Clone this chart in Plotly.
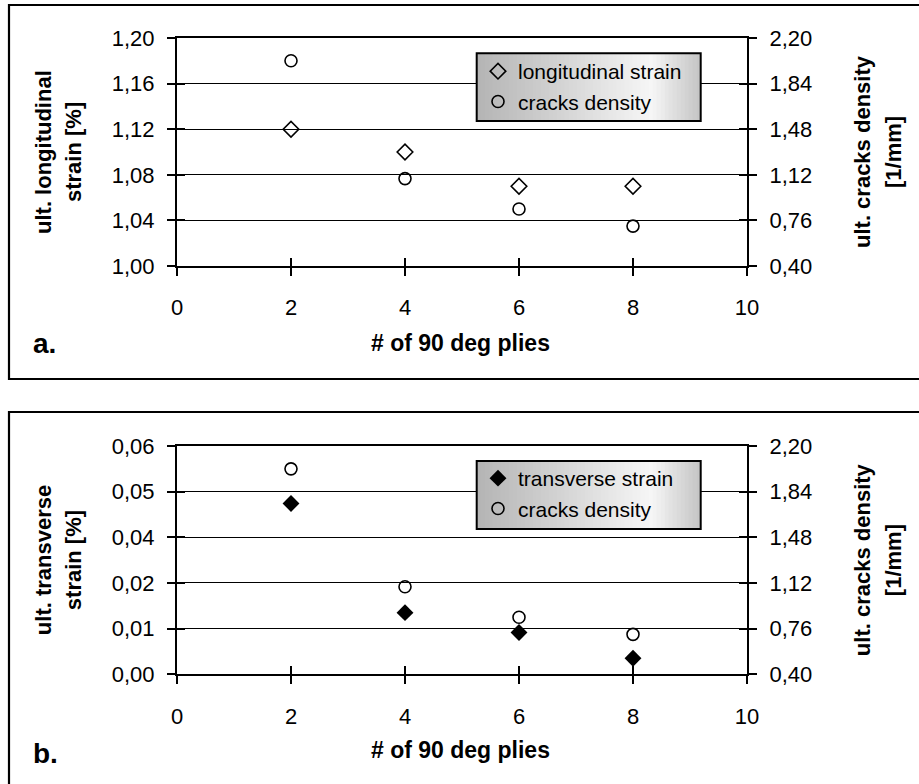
import plotly.graph_objects as go

# ---------------- data ----------------
plies = [2, 4, 6, 8]
long_strain = [1.12, 1.10, 1.07, 1.07]
trans_strain = [0.0449, 0.0162, 0.0110, 0.0042]
cracks_density = [2.02, 1.09, 0.85, 0.715]

x_ticks = [0, 2, 4, 6, 8, 10]
long_ticks = [1.00, 1.04, 1.08, 1.12, 1.16, 1.20]
trans_tickvals = [0.0, 0.012, 0.024, 0.036, 0.048, 0.060]
trans_ticktext = ["0,00", "0,01", "0,02", "0,04", "0,05", "0,06"]
density_ticks = [0.40, 0.76, 1.12, 1.48, 1.84, 2.20]

# ---------------- layout helpers ----------------
W, H = 919, 784
FONT = "Liberation Sans, Arial, sans-serif"


def px(x):
    return x / W


def py(y):
    return 1 - y / H


PLOT_X = [px(177), px(747)]
PANELS = [
    dict(top=38, bot=266, frame_top=5, frame_bot=379, label="a.",
         ltitle=["ult. longitudinal", "strain [%]"], legend="legend",
         leg_box=(476.7, 53.3, 700.7, 121.0), leg_y=51),
    dict(top=446, bot=674.3, frame_top=412, frame_bot=795, label="b.",
         ltitle=["ult. transverse", "strain [%]"], legend="legend2",
         leg_box=(476.7, 461.0, 700.7, 529.0), leg_y=458),
]

fig = go.Figure()

tick_font = dict(family=FONT, size=22, color="black")
shapes = []
annotations = []
layout_axes = {}
legends = {}


def axis_common():
    return dict(showgrid=False, zeroline=False, linecolor="black",
                tickcolor="black", tickwidth=1.5, ticklen=8,
                tickfont=tick_font, automargin=False)


leg_common = dict(bgcolor="rgba(0,0,0,0)", borderwidth=0,
                  font=dict(family=FONT, size=21, color="black"),
                  xanchor="left", yanchor="top", tracegroupgap=0,
                  itemwidth=30)

for i, p in enumerate(PANELS):
    xa = 1 + 2 * i          # main x
    xo = 2 + 2 * i          # overlay x (inside ticks)
    yl = 1 + 4 * i          # left y
    yr = 2 + 4 * i          # right y
    ylo = 3 + 4 * i         # left overlay
    yro = 4 + 4 * i         # right overlay

    def n(prefix, k):
        return prefix if k == 1 else f"{prefix}{k}"

    ydom = [py(p["bot"]), py(p["top"])]

    if i == 0:
        yrange = [1.0, 1.2]
        ytv, ytt = long_ticks, ["%.2f" % v for v in long_ticks]
    else:
        yrange = [0.0, 0.06]
        ytv, ytt = trans_tickvals, trans_ticktext
    ytt = [t.replace(".", ",") for t in ytt]
    rtt = [("%.2f" % v).replace(".", ",") for v in density_ticks]

    xcfg = axis_common()
    xcfg.update(domain=PLOT_X, range=[0, 10], tickmode="array", tickvals=x_ticks,
                ticks="outside", showline=True, linewidth=2, mirror=True,
                anchor=n("y", yl), ticklabelstandoff=13)
    layout_axes[n("xaxis", xa)] = xcfg

    xocfg = axis_common()
    xocfg.update(domain=PLOT_X, range=[0, 10], tickmode="array", tickvals=x_ticks,
                 ticks="inside", showline=False, showticklabels=False,
                 overlaying=n("x", xa), anchor=n("y", yl))
    layout_axes[n("xaxis", xo)] = xocfg

    ycfg = axis_common()
    ycfg.update(domain=ydom, range=yrange, tickmode="array", tickvals=ytv,
                ticktext=ytt, ticks="outside", showline=True, linewidth=2,
                showgrid=True, gridcolor="black", gridwidth=1,
                anchor=n("x", xa), ticklabelstandoff=8)
    layout_axes[n("yaxis", yl)] = ycfg

    yrcfg = axis_common()
    yrcfg.update(domain=ydom, range=[0.4, 2.2], tickmode="array",
                 tickvals=density_ticks, ticktext=rtt, ticks="outside",
                 showline=True, linewidth=2, side="right",
                 overlaying=n("y", yl), anchor=n("x", xa), ticklabelstandoff=8)
    layout_axes[n("yaxis", yr)] = yrcfg

    ylocfg = axis_common()
    ylocfg.update(domain=ydom, range=yrange, tickmode="array", tickvals=ytv,
                  ticks="inside", showline=False, showticklabels=False,
                  overlaying=n("y", yl), anchor=n("x", xa))
    layout_axes[n("yaxis", ylo)] = ylocfg

    yrocfg = axis_common()
    yrocfg.update(domain=ydom, range=[0.4, 2.2], tickmode="array",
                  tickvals=density_ticks, ticks="inside", showline=False,
                  showticklabels=False, side="right",
                  overlaying=n("y", yl), anchor=n("x", xa))
    layout_axes[n("yaxis", yro)] = yrocfg

    # empty traces so the overlay (tick-only) axes get drawn
    for (xx, yy) in [(n("x", xo), n("y", yl)), (n("x", xa), n("y", ylo)),
                     (n("x", xa), n("y", yro))]:
        fig.add_trace(go.Scatter(x=[], y=[], xaxis=xx, yaxis=yy,
                                 showlegend=False, hoverinfo="skip"))

    # data traces
    if i == 0:
        fig.add_trace(go.Scatter(
            x=plies, y=long_strain, mode="markers", name="longitudinal strain",
            marker=dict(symbol="diamond-open", size=12, color="black",
                        line=dict(width=1.6)),
            xaxis=n("x", xa), yaxis=n("y", yl), legend=p["legend"]))
    else:
        fig.add_trace(go.Scatter(
            x=plies, y=trans_strain, mode="markers", name="transverse strain",
            marker=dict(symbol="diamond", size=13, color="black",
                        line=dict(width=0)),
            xaxis=n("x", xa), yaxis=n("y", yl), legend=p["legend"]))
    fig.add_trace(go.Scatter(
        x=plies, y=cracks_density, mode="markers", name="cracks density",
        marker=dict(symbol="circle-open", size=12, color="black",
                    line=dict(width=1.6)),
        xaxis=n("x", xa), yaxis=n("y", yr), legend=p["legend"]))

    legends[p["legend"]] = dict(x=px(478), y=py(p["leg_y"]), **leg_common)

    # outer frame
    shapes.append(dict(type="rect", xref="paper", yref="paper",
                       x0=px(9), x1=px(940), y0=py(p["frame_bot"]),
                       y1=py(p["frame_top"]),
                       line=dict(color="black", width=2.2), layer="below"))

    # legend gradient box
    lx0, ly0, lx1, ly1 = p["leg_box"]
    nstrip = 56
    for k in range(nstrip):
        t = (k + 0.5) / nstrip
        if t < 0.78:
            g = 0xb4 + (0xf6 - 0xb4) * (t / 0.78)
        else:
            g = 0xf6 + (0xc4 - 0xf6) * ((t - 0.78) / 0.22)
        g = int(round(g))
        xs0 = lx0 + (lx1 - lx0) * k / nstrip
        xs1 = lx0 + (lx1 - lx0) * (k + 1) / nstrip + 0.6
        shapes.append(dict(type="rect", xref="paper", yref="paper",
                           x0=px(xs0), x1=px(min(xs1, lx1)), y0=py(ly1), y1=py(ly0),
                           line=dict(width=0),
                           fillcolor=f"rgb({g},{g},{g})", layer="above"))
    shapes.append(dict(type="rect", xref="paper", yref="paper",
                       x0=px(lx0), x1=px(lx1), y0=py(ly1), y1=py(ly0),
                       line=dict(color="black", width=2), layer="above"))

    # left y title (two lines)
    cy = (p["top"] + p["bot"]) / 2
    for txt, xpos in zip(p["ltitle"], [43, 73]):
        annotations.append(dict(text=f"<b>{txt}</b>", x=px(xpos), y=py(cy),
                                xref="paper", yref="paper", showarrow=False,
                                textangle=-90, xanchor="center", yanchor="middle",
                                font=dict(family=FONT, size=22, color="black")))
    # right y title
    for txt, xpos in zip(["ult. cracks density", "[1/mm]"], [862, 893]):
        annotations.append(dict(text=f"<b>{txt}</b>", x=px(xpos), y=py(cy),
                                xref="paper", yref="paper", showarrow=False,
                                textangle=-90, xanchor="center", yanchor="middle",
                                font=dict(family=FONT, size=22, color="black")))
    # x title
    xty = 343 if i == 0 else 750
    annotations.append(dict(text="<b># of 90 deg plies</b>", x=px(461), y=py(xty),
                            xref="paper", yref="paper", showarrow=False,
                            xanchor="center", yanchor="middle",
                            font=dict(family=FONT, size=23, color="black")))
    # panel label
    ply = 343 if i == 0 else 753
    annotations.append(dict(text=f"<b>{p['label']}</b>", x=px(31), y=py(ply),
                            xref="paper", yref="paper", showarrow=False,
                            xanchor="left", yanchor="middle",
                            font=dict(family=FONT, size=28, color="black")))

fig.update_layout(
    template="none",
    width=W, height=H,
    margin=dict(l=0, r=0, t=0, b=0, pad=0, autoexpand=False),
    paper_bgcolor="white", plot_bgcolor="white",
    font=dict(family=FONT, color="black"),
    shapes=shapes, annotations=annotations,
    **legends,
    **layout_axes,
)

fig.write_html(
    "out.html",
    config={"displayModeBar": False},
    post_script="document.body.style.margin='0';document.body.style.overflow='hidden';",
)
